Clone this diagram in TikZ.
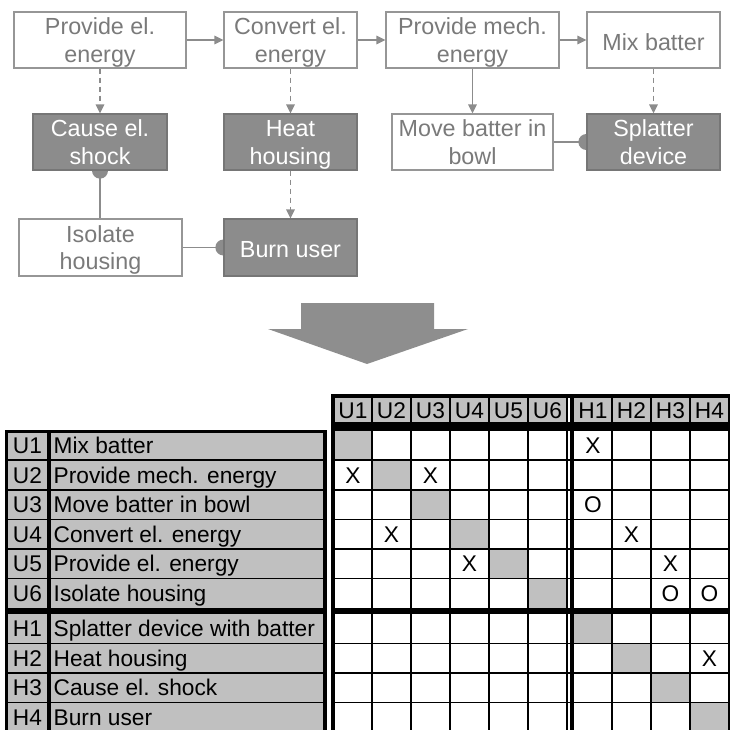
\documentclass[tikz,border=0pt]{standalone}
\usepackage{fontspec}
\setmainfont{Liberation Sans}
\usetikzlibrary{arrows.meta}

\definecolor{boxline}{RGB}{150,150,150}
\definecolor{darkfill}{RGB}{140,140,140}
\definecolor{darkline}{RGB}{118,118,118}
\definecolor{txtgray}{RGB}{122,122,122}
\definecolor{linec}{RGB}{140,140,140}
\definecolor{cellgray}{RGB}{192,192,192}
\definecolor{bigarrow}{RGB}{142,142,142}

\newcommand\topfont{\fontsize{23.3}{27.5}\selectfont}
\newcommand\tabfont{\fontsize{22.7}{27}\selectfont}
% centred lines of box text, lowered a little without changing the box extent
\newcommand\boxtext[2][3pt]{\raisebox{-#1}[\height][\depth]{\begin{tabular}{@{}c@{}}#2\end{tabular}}}

\pgfdeclarelayer{bg}
\pgfsetlayers{bg,main}

\begin{document}
\begin{tikzpicture}[x=1pt,y=-1pt,
  fbox/.style={draw=boxline, line width=1.3pt, fill=white, text=txtgray,
    minimum height=56pt, inner sep=0pt, font=\topfont},
  hbox/.style={fbox, fill=darkfill, draw=darkline, text=white},
  flow/.style={draw=linec, line width=1.6pt, -{Triangle[length=9pt,width=8.5pt]}},
  cause/.style={flow, dash pattern=on 5pt off 4pt},
  link/.style={draw=linec, line width=1.6pt},
  grid/.style={draw=black, line width=1.4pt},
  tabtxt/.style={font=\tabfont, inner sep=0pt, text=black}]
\useasboundingbox (0,0) rectangle (731,730);
\clip (0,0) rectangle (731,730);

% ---------- function network ----------
\node[fbox, minimum width=172pt] (pel)   at (100,40)    {\boxtext{Provide el.\\energy}};
\node[fbox, minimum width=133pt] (cel)   at (290.5,40)  {\boxtext{Convert el.\\energy}};
\node[fbox, minimum width=173pt] (pmech) at (472.5,40)  {\boxtext{Provide mech.\\energy}};
\node[fbox, minimum width=133pt] (mix)   at (653.5,40)  {\boxtext[5pt]{Mix batter}};
\node[hbox, minimum width=134pt] (shock) at (100,142)   {\boxtext{Cause el.\\shock}};
\node[hbox, minimum width=133pt] (heat)  at (290.5,142) {\boxtext{Heat\\housing}};
\node[fbox, minimum width=161pt] (move)  at (472.5,142) {\boxtext{Move batter in\\bowl}};
\node[hbox, minimum width=133pt] (splat) at (653.5,142) {\boxtext{Splatter\\device}};
\node[fbox, minimum width=163pt, minimum height=57pt] (iso)  at (100.5,247.5) {\boxtext{Isolate\\housing}};
\node[hbox, minimum width=133pt, minimum height=57pt] (burn) at (290.5,247.5) {\boxtext[5pt]{Burn user}};

\draw[flow] (pel) -- (cel);
\draw[flow] (cel) -- (pmech);
\draw[flow] (pmech) -- (mix);
\draw[flow] (pmech) -- (move);
\draw[cause] (pel) -- (shock);
\draw[cause] (cel) -- (heat);
\draw[cause] (heat) -- (burn);
\draw[cause] (mix) -- (splat);

% counteracting links end in a ball on the harmful function
\draw[link] (shock.south |- iso.north) -- (shock.south);
\draw[link] (iso) -- (burn);
\draw[link] (move) -- (splat);
\begin{pgfonlayer}{bg}
  \fill[linec] (shock.south) circle[radius=8pt];
  \fill[linec] (burn.west) circle[radius=8pt];
  \fill[linec] (splat.west) circle[radius=8pt];
\end{pgfonlayer}

% ---------- transition arrow ----------
\fill[bigarrow] (301,303) -- (434,303) -- (434,329) -- (468,329) -- (367,364)
  -- (268,329) -- (301,329) -- cycle;

% ---------- function list ----------
\fill[cellgray] (5,430) rectangle (325,733);
\foreach \y in {460.15,489.8,519.45,549.1,578.75,643.5,673,702.5}
  \draw[grid] (5,\y) -- (325,\y);
\fill[black] (5,429.5) rectangle (327,432.5);
\fill[black] (4.5,429.5) rectangle (7.5,733);
\fill[black] (47,429.5) rectangle (51,733);
\fill[black] (323,429.5) rectangle (327,733);
\fill[black] (4.5,608.4) rectangle (327,614);

\foreach \id/\name/\yc in {U1/Mix batter/445.3, U2/Provide mech. energy/475.0,
    U3/Move batter in bowl/504.6, U4/Convert el. energy/534.3,
    U5/Provide el. energy/563.9, U6/Isolate housing/593.6,
    H1/Splatter device with batter/628.75, H2/Heat housing/658.25,
    H3/Cause el. shock/687.75, H4/Burn user/717.25} {
  \node[tabtxt, anchor=base] (id-\id) at (27.5,{\yc+8}) {\id};
  \node[tabtxt, anchor=base west] (nm-\id) at (53.5,{\yc+8}) {\name};
}

% ---------- interaction matrix ----------
\fill[cellgray] (334,397) rectangle (567,422);
\fill[cellgray] (574,397) rectangle (729,422);
% diagonal cells
\foreach \xa/\xb/\ya/\yb in {334/372/430.5/460.15, 372/411/460.15/489.8,
    411/450/489.8/519.45, 450/489/519.45/549.1, 489/528/549.1/578.75,
    528/567/578.75/608.4, 574/612/614/643.5, 612/651/643.5/673,
    651/690/673/702.5, 690/729/702.5/733}
  \fill[cellgray] (\xa,\ya) rectangle (\xb,\yb);

\foreach \x in {372,411,450,489,528,612,651,690}
  \draw[grid] (\x,397) -- (\x,733);
\draw[grid] (567,394) -- (567,733);
\draw[grid] (729,394) -- (729,733);
\foreach \y in {460.15,489.8,519.45,549.1,578.75,643.5,673,702.5}
  \draw[grid] (334,\y) -- (729,\y);

\fill[black] (331,394) rectangle (730,397.5);
\fill[black] (331,394) rectangle (334.5,733);
\fill[black] (331,421.5) rectangle (730,430.5);
\fill[black] (570,394) rectangle (574,733);
\fill[black] (331,608.4) rectangle (730,614);

\foreach \lab/\xc in {U1/353, U2/391.5, U3/430.5, U4/469.5, U5/508.5, U6/547.5,
    H1/593, H2/631.5, H3/670.5, H4/709.5}
  \node[tabtxt, anchor=base] (hd-\lab) at (\xc,418) {\lab};

\foreach \k/\xc/\yc/\s in {a/593/445.3/X, b/353/475.0/X, c/430.5/475.0/X,
    d/593/504.6/O, e/391.5/534.3/X, f/631.5/534.3/X, g/469.5/563.9/X,
    h/670.5/563.9/X, i/670.5/593.6/O, j/709.5/593.6/O, k/709.5/658.25/X}
  \node[tabtxt, anchor=base] (mk-\k) at (\xc,{\yc+8}) {\s};
\end{tikzpicture}
\end{document}
